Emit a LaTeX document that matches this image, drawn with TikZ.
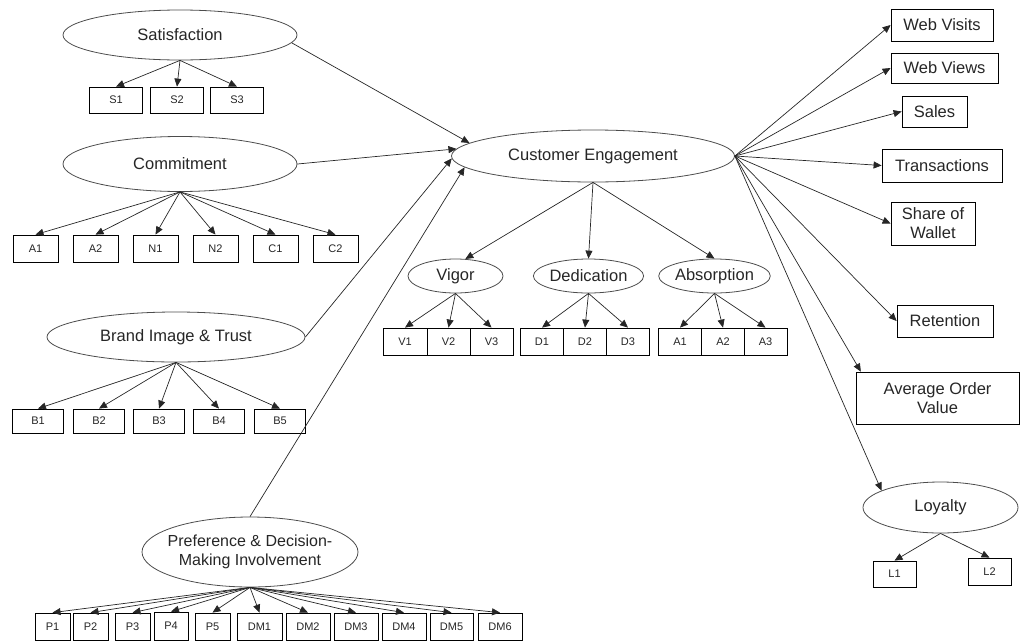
\documentclass[tikz,border=0pt]{standalone}
\usepackage{fontspec}
\setmainfont{Liberation Sans}
\usetikzlibrary{shapes.geometric,arrows.meta}
\begin{document}
\begin{tikzpicture}[x=1pt,y=-1pt,
 lat/.style={draw=black!70, line width=0.8pt, ellipse, inner sep=0pt, font=\fontsize{16.5}{19}\selectfont, text=black!85, align=center},
 ind/.style={draw=black, line width=0.8pt, rectangle, inner sep=0pt, font=\fontsize{11}{13}\selectfont, text=black!85},
 big/.style={draw=black, line width=0.8pt, rectangle, inner sep=0pt, font=\fontsize{16.5}{19}\selectfont, text=black!85, align=center},
 arr/.style={-{Triangle[length=8pt,width=7pt]}, line width=0.7pt, draw=black!85},
 ]
\useasboundingbox (0,0) rectangle (1024,643);

% Satisfaction
\node[lat, minimum width=234pt, minimum height=50pt] (sat) at (180,35) {Satisfaction};
\node[ind, minimum width=53pt, minimum height=26pt] (s1) at (116,100) {S1};
\node[ind, minimum width=53pt, minimum height=26pt] (s2) at (177,100) {S2};
\node[ind, minimum width=53pt, minimum height=26pt] (s3) at (237,100) {S3};
\foreach \n in {s1,s2,s3} \draw[arr] (sat.south) -- (\n.north);

% Commitment
\node[lat, minimum width=234pt, minimum height=55pt] (com) at (180,164) {Commitment};
\foreach \n/\x/\t in {ca1/35.5/A1, ca2/95.5/A2, cn1/155.5/N1, cn2/215.5/N2, cc1/275.5/C1, cc2/335.5/C2}
  \node[ind, minimum width=45pt, minimum height=27pt] (\n) at (\x,248.5) {\t};
\foreach \n in {ca1,ca2,cn1,cn2,cc1,cc2} \draw[arr] (com.south) -- (\n.north);

% Brand Image & Trust
\node[lat, minimum width=258pt, minimum height=50pt] (bra) at (176,337) {Brand Image \& Trust};
\foreach \n/\x/\t in {b1/38/B1, b2/99/B2, b3/159/B3, b4/219/B4, b5/280/B5}
  \node[ind, minimum width=51pt, minimum height=24pt] (\n) at (\x,421) {\t};
\foreach \n in {b1,b2,b3,b4,b5} \draw[arr] (bra.south) -- (\n.north);

% Preference
\node[lat, minimum width=216pt, minimum height=70pt,
  label={[font=\fontsize{16}{19}\selectfont, text=black!85, align=center]center:Preference \& Decision-\\Making Involvement}] (pre) at (250,552) {};
\foreach \n/\x/\w/\t in {p1/52.5/35/P1, p2/90.5/35/P2, p3/132.5/35/P3, p5/212.5/35/P5,
   dm1/259.5/45/DM1, dm2/308/44/DM2, dm3/356/44/DM3, dm4/404/44/DM4, dm5/451.5/43/DM5, dm6/500/44/DM6}
  \node[ind, minimum width=\w pt, minimum height=27pt] (\n) at (\x,626.5) {\t};
\node[ind, minimum width=34pt, minimum height=28pt] (p4) at (171,626) {P4};
\foreach \n in {p1,p2,p3,p4,p5,dm1,dm2,dm3,dm4,dm5,dm6} \draw[arr] (pre.south) -- (\n.north);

% Customer Engagement
\node[lat, minimum width=283pt, minimum height=52pt] (ce) at (593,156) {Customer Engagement};
\draw[arr] (sat.-4) -- (ce.174);
\draw[arr] (com.east) -- (ce.177);
\draw[arr] (bra.east) -- (ce.181);
\draw[arr] (pre.north) -- (ce.185);

% Dimensions
\node[lat, minimum width=95pt, minimum height=34pt] (vig) at (455.5,276) {Vigor};
\node[lat, minimum width=103pt, minimum height=34pt] (ded) at (588.5,276) {Dedication};
\node[lat, minimum width=97pt, minimum height=34pt] (abs) at (714.5,276) {Absorption};
\draw[arr] (ce.south) -- (vig.60);
\draw[arr] (ce.south) -- (ded.north);
\draw[arr] (ce.south) -- (abs.north);
\node[ind, minimum width=44pt, minimum height=27pt] (v1) at (405,341.5) {V1};
\node[ind, minimum width=43pt, minimum height=27pt] (v2) at (448.5,341.5) {V2};
\node[ind, minimum width=43pt, minimum height=27pt] (v3) at (491.5,341.5) {V3};
\node[ind, minimum width=43pt, minimum height=27pt] (d1) at (542,341.5) {D1};
\node[ind, minimum width=43pt, minimum height=27pt] (d2) at (585,341.5) {D2};
\node[ind, minimum width=43pt, minimum height=27pt] (d3) at (628,341.5) {D3};
\node[ind, minimum width=43pt, minimum height=27pt] (a1) at (680,341.5) {A1};
\node[ind, minimum width=43pt, minimum height=27pt] (a2) at (723,341.5) {A2};
\node[ind, minimum width=43pt, minimum height=27pt] (a3) at (765.5,341.5) {A3};
\foreach \n in {v1,v2,v3} \draw[arr] (vig.south) -- (\n.north);
\foreach \n in {d1,d2,d3} \draw[arr] (ded.south) -- (\n.north);
\foreach \n in {a1,a2,a3} \draw[arr] (abs.south) -- (\n.north);

% Outcomes
\node[big, minimum width=102pt, minimum height=32pt] (wvi) at (942,25) {Web Visits};
\node[big, minimum width=107pt, minimum height=30pt] (wvw) at (944.5,68) {Web Views};
\node[big, minimum width=65pt, minimum height=31pt] (sal) at (934.5,111.5) {Sales};
\node[big, minimum width=120pt, minimum height=33pt] (tra) at (942,165.5) {Transactions};
\node[big, minimum width=84pt, minimum height=43pt] (sha) at (933,223.5) {Share of\\Wallet};
\node[big, minimum width=96pt, minimum height=32pt] (ret) at (945,321) {Retention};
\node[big, minimum width=163pt, minimum height=52pt] (aov) at (937.5,398) {Average Order\\Value};
\node[lat, minimum width=155pt, minimum height=51pt] (loy) at (940.5,507.5) {Loyalty};
\foreach \n in {wvi,wvw,sal,tra,sha,ret} \draw[arr] (ce.east) -- (\n.west);
\draw[arr] (ce.east) -- (aov.161);
\draw[arr] (ce.east) -- (loy.164);
\node[ind, minimum width=43pt, minimum height=26pt] (l1) at (894.5,574) {L1};
\node[ind, minimum width=43pt, minimum height=27pt] (l2) at (989.5,571.5) {L2};
\draw[arr] (loy.south) -- (l1.north);
\draw[arr] (loy.south) -- (l2.north);
\end{tikzpicture}
\end{document}
